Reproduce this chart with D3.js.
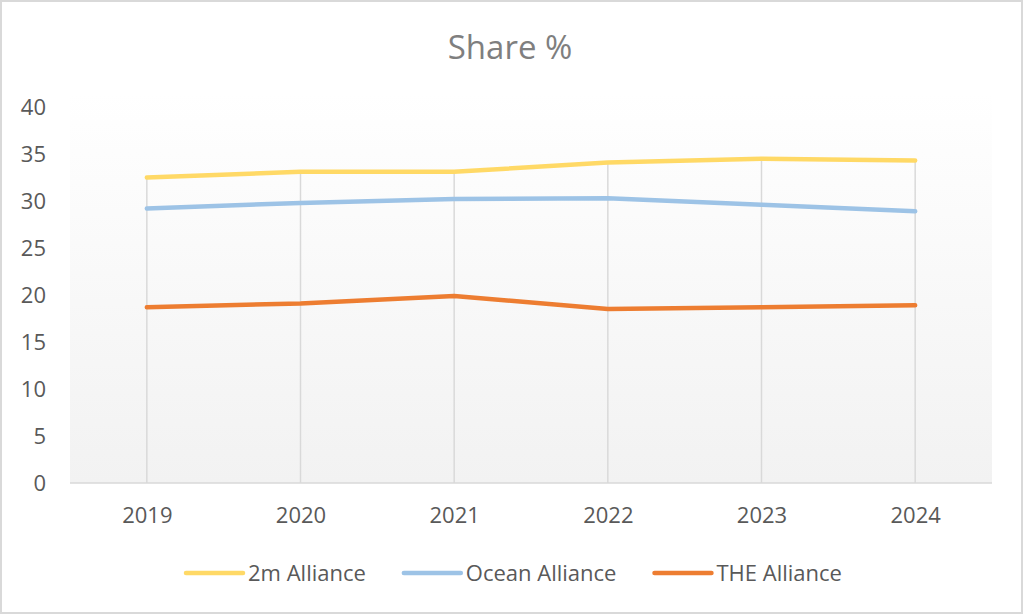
<!DOCTYPE html>
<html lang="en">
<head>
<meta charset="utf-8">
<title>Share %</title>
<script src="https://cdn.jsdelivr.net/npm/d3@7"></script>
<style>
  html, body { margin: 0; padding: 0; background: #fff; }
  svg { display: block; font-family: "Open Sans", sans-serif; }
</style>
</head>
<body>
<script>
var years = ["2019", "2020", "2021", "2022", "2023", "2024"];
var alliance2m = [32.5, 33.1, 33.1, 34.1, 34.5, 34.3];
var oceanAlliance = [29.2, 29.8, 30.2, 30.3, 29.6, 28.9];
var theAlliance = [18.7, 19.1, 19.9, 18.5, 18.7, 18.9];
var yTicks = [0, 5, 10, 15, 20, 25, 30, 35, 40];

var seriesNames = ["2m Alliance", "Ocean Alliance", "THE Alliance"];
var seriesColors = ["#ffd966", "#9dc3e6", "#ed7d31"];
var seriesValues = [alliance2m, oceanAlliance, theAlliance];

var w = 1024, h = 615;
var plot = { left: 70, right: 992, top: 92, bottom: 483 };

var svg = d3.select("body").append("svg")
    .attr("width", w)
    .attr("height", h);

// chart border
svg.append("rect")
   .attr("x", 1).attr("y", 1)
   .attr("width", w - 3).attr("height", h - 3)
   .attr("fill", "#fff")
   .attr("stroke", "#d9d9d9")
   .attr("stroke-width", 2);

// plot area gradient
var grad = svg.append("defs").append("linearGradient")
    .attr("id", "plotGrad")
    .attr("x1", 0).attr("y1", 0).attr("x2", 0).attr("y2", 1);
grad.append("stop").attr("offset", "0%").attr("stop-color", "#ffffff");
grad.append("stop").attr("offset", "100%").attr("stop-color", "#f2f2f2");

svg.append("rect")
   .attr("x", plot.left).attr("y", plot.top)
   .attr("width", plot.right - plot.left)
   .attr("height", plot.bottom - plot.top)
   .attr("fill", "url(#plotGrad)");

var xScale = d3.scalePoint()
    .domain(years)
    .range([plot.left, plot.right])
    .padding(0.5);

var yScale = d3.scaleLinear()
    .domain([0, 40])
    .range([plot.bottom, 107]);

// title
svg.append("text")
   .attr("x", 510).attr("y", 59)
   .attr("text-anchor", "middle")
   .attr("font-size", "33px")
   .attr("fill", "#7f7f7f")
   .text("Share %");

// drop lines from highest point to axis
svg.append("g").selectAll("line")
   .data(years)
   .enter()
   .append("line")
   .attr("x1", function(d) { return xScale(d); })
   .attr("x2", function(d) { return xScale(d); })
   .attr("y1", function(d, i) {
     return yScale(d3.max(seriesValues, function(s) { return s[i]; }));
   })
   .attr("y2", plot.bottom)
   .attr("stroke", "#d9d9d9")
   .attr("stroke-width", 1.5);

// y axis labels
var yAxis = svg.append("g")
    .attr("transform", "translate(46,0)")
    .call(d3.axisLeft(yScale).tickValues(yTicks).tickSize(0).tickPadding(0));
yAxis.select(".domain").remove();
yAxis.selectAll("text")
     .attr("font-family", "Open Sans, sans-serif")
     .attr("font-size", "22px")
     .attr("fill", "#595959")
     .attr("dy", "0.35em");

// x axis
var xAxis = svg.append("g")
    .attr("transform", "translate(0," + plot.bottom + ")")
    .call(d3.axisBottom(xScale).tickSize(0).tickPadding(24));
xAxis.select(".domain")
     .attr("d", "M" + plot.left + ",0H" + plot.right)
     .attr("stroke", "#d9d9d9")
     .attr("stroke-width", 1.5);
xAxis.selectAll("text")
     .attr("font-family", "Open Sans, sans-serif")
     .attr("font-size", "22px")
     .attr("fill", "#595959");

// lines
var line = d3.line()
    .x(function(d, i) { return xScale(years[i]); })
    .y(function(d) { return yScale(d); });

svg.append("g").selectAll("path")
   .data(seriesValues)
   .enter()
   .append("path")
   .attr("d", line)
   .attr("fill", "none")
   .attr("stroke", function(d, i) { return seriesColors[i]; })
   .attr("stroke-width", 4.5)
   .attr("stroke-linecap", "round")
   .attr("stroke-linejoin", "round");

// legend
var legend = svg.append("g");
var lx = 186, ly = 573;
seriesNames.forEach(function(name, i) {
  var item = legend.append("g");
  item.append("line")
      .attr("x1", lx).attr("x2", lx + 57)
      .attr("y1", ly).attr("y2", ly)
      .attr("stroke", seriesColors[i])
      .attr("stroke-width", 4.5)
      .attr("stroke-linecap", "round");
  var t = item.append("text")
      .attr("x", lx + 62).attr("y", ly + 8)
      .attr("font-size", "22px")
      .attr("fill", "#595959")
      .text(name);
  lx = lx + 62 + t.node().getComputedTextLength() + 38;
});
</script>
</body>
</html>
